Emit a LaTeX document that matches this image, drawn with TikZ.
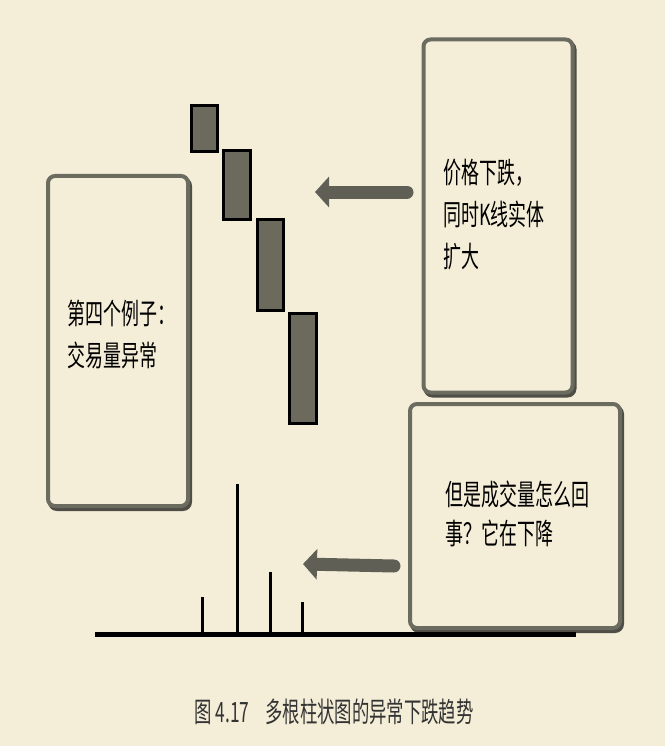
\documentclass[tikz,border=0pt]{standalone}
\usepackage{fontspec}
\newfontfamily\cjk[FakeStretch=0.62]{Noto Sans CJK SC}
\usetikzlibrary{arrows.meta,shadows}
\definecolor{paper}{HTML}{F4EED8}
\definecolor{panelgray}{HTML}{6C6B60}
\definecolor{shadegray}{HTML}{4E4D46}
\definecolor{candlegray}{HTML}{6B6A5C}
\definecolor{arrowgray}{HTML}{605F56}
\definecolor{captiongray}{HTML}{333333}

\begin{document}
\begin{tikzpicture}[x=1pt, y=-1pt,
  panel/.style={draw=panelgray, line width=4pt, rounded corners=7pt, fill=paper,
    inner sep=0pt,
    general shadow={shadow xshift=2pt, shadow yshift=-3pt, draw=shadegray,
      fill=shadegray, line width=4pt}},
  note/.style={anchor=west, align=left, inner sep=0pt,
    font=\cjk\fontsize{29}{42}\selectfont, text=black},
  candle/.style={draw=black, line width=3pt, fill=candlegray},
  pointer/.style={draw=arrowgray, line width=13pt, line cap=round,
    -{Triangle[width=30pt, length=14pt]}},
  volbar/.style={draw=black, line width=3pt}]
  \fill[paper] (0,0) rectangle (665,746);
  \useasboundingbox (0,0) rectangle (665,746);

  \node[panel, minimum width=140, minimum height=330] (examplebox) at (118,341) {};
  \node[panel, minimum width=149, minimum height=353] (pricebox) at (498,216) {};
  \node[panel, minimum width=210, minimum height=224] (volumebox) at (515,516) {};

  \node[note] (exampletext) at (67,334) {第四个例子：\\交易量异常};
  \node[note] (pricetext) at (443,215) {价格下跌，\\同时K线实体\\扩大};
  \node[note, font=\cjk\fontsize{29}{39}\selectfont] (volumetext) at (445,514) {但是成交量怎么回\\事？它在下降};

  \foreach \xa/\ya/\xb/\yb in {191/106/217/152, 223/151/250/219, 257/219/283/310, 289/313/316/423}
    \draw[candle] (\xa,\ya) rectangle (\xb,\yb);

  \coordinate (pricetail) at (407,192);
  \coordinate (pricetip) at (315,192);
  \coordinate (volumetail) at (394,566);
  \coordinate (volumetip) at (303,564);
  \draw[pointer] (pricetail) -- (pricetip);
  \draw[pointer] (volumetail) -- (volumetip);

  \coordinate (axisleft) at (95,634);
  \coordinate (axisright) at (576,634);
  \foreach \xv/\yv in {202/597, 237/484, 270/572, 302/602}
    \draw[volbar] (\xv,634) -- (\xv,\yv);
  \draw[draw=black, line width=5pt] (axisleft) -- (axisright);

  \node[font=\cjk\fontsize{28}{28}\selectfont, text=captiongray] (caption) at (334,712) {图 4.17\hspace{16pt}多根柱状图的异常下跌趋势};
\end{tikzpicture}
\end{document}
